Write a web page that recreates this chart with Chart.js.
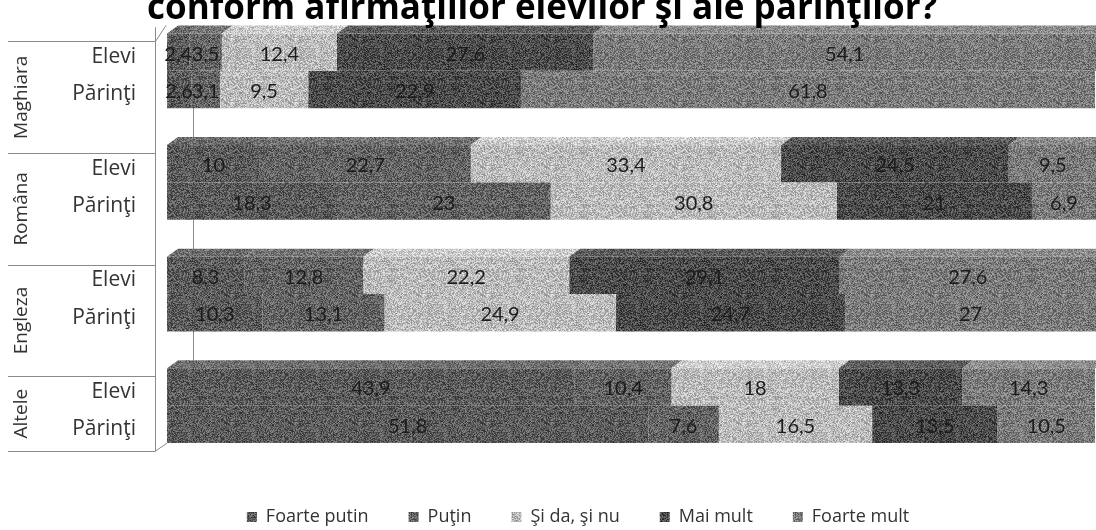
<!DOCTYPE html>
<html>
<head>
<meta charset="utf-8">
<script src="https://cdn.jsdelivr.net/npm/chart.js@4.4.1/dist/chart.umd.min.js"></script>
<style>
  html, body { margin: 0; padding: 0; background: #fff; }
</style>
</head>
<body>
<canvas id="myChart" width="1096" height="530"></canvas>
<script>
var groups = ['Maghiara', 'Româna', 'Engleza', 'Altele'];
var respondents = ['Elevi', 'Părinţi'];
var seriesNames = ['Foarte putin', 'Puţin', 'Şi da, şi nu', 'Mai mult', 'Foarte mult'];

// procente, cate o valoare pe limba (Maghiara, Româna, Engleza, Altele)
var foartePutinElevi   = [2.4, 10, 8.3, 43.9];
var foartePutinParinti = [2.6, 18.3, 10.3, 51.8];
var putinElevi         = [3.5, 22.7, 12.8, 10.4];
var putinParinti       = [3.1, 23, 13.1, 7.6];
var siDaSiNuElevi      = [12.4, 33.4, 22.2, 18];
var siDaSiNuParinti    = [9.5, 30.8, 24.9, 16.5];
var maiMultElevi       = [27.6, 24.5, 29.1, 13.3];
var maiMultParinti     = [22.9, 21, 24.7, 13.5];
var foarteMultElevi    = [54.1, 9.5, 27.6, 14.3];
var foarteMultParinti  = [61.8, 6.9, 27, 10.5];

var eleviSeries   = [foartePutinElevi, putinElevi, siDaSiNuElevi, maiMultElevi, foarteMultElevi];
var parintiSeries = [foartePutinParinti, putinParinti, siDaSiNuParinti, maiMultParinti, foarteMultParinti];

var grays = [90, 98, 186, 74, 122];
var catPct = 0.67;

var canvas = document.getElementById('myChart');
var ctx = canvas.getContext('2d');

// gray fill with a fixed grain
function grain(level, spread) {
  var c = document.createElement('canvas');
  c.width = 64; c.height = 64;
  var g = c.getContext('2d');
  var img = g.createImageData(64, 64);
  for (var y = 0; y < 64; y++) {
    for (var x = 0; x < 64; x++) {
      var h = Math.sin(x * 12.9898 + y * 78.233) * 43758.5453;
      h = h - Math.floor(h);
      var v = Math.max(0, Math.min(255, level + (h - 0.5) * 2 * spread));
      var i = (y * 64 + x) * 4;
      img.data[i] = img.data[i + 1] = img.data[i + 2] = v;
      img.data[i + 3] = 255;
    }
  }
  g.putImageData(img, 0, 0);
  return ctx.createPattern(c, 'repeat');
}

var datasets = [];
seriesNames.forEach(function(name, s) {
  var fill = grain(grays[s], 45);
  var top = grain(grays[s] + 18, 40);
  datasets.push({ label: name, data: eleviSeries[s], stack: 'Elevi', backgroundColor: fill, topColor: top });
  datasets.push({ label: name, data: parintiSeries[s], stack: 'Părinţi', backgroundColor: fill, topColor: top });
});

function barBox(chart, dsIndex, i) {
  var bar = chart.getDatasetMeta(dsIndex).data[i];
  return { top: bar.y - bar.height / 2, bottom: bar.y + bar.height / 2, y: bar.y };
}

// slanted top face over the Elevi row of every group
var topFaces = {
  id: 'topFaces',
  afterDatasetsDraw: function(chart) {
    var c = chart.ctx;
    c.save();
    chart.data.datasets.forEach(function(ds, i) {
      if (ds.stack !== 'Elevi') return;
      chart.getDatasetMeta(i).data.forEach(function(bar) {
        var top = bar.y - bar.height / 2;
        var x0 = Math.min(bar.base, bar.x), x1 = Math.max(bar.base, bar.x);
        c.beginPath();
        c.moveTo(x0, top);
        c.lineTo(x1, top);
        c.lineTo(x1 + 11, top - 8);
        c.lineTo(x0 + 11, top - 8);
        c.closePath();
        c.fillStyle = ds.topColor;
        c.fill();
      });
    });
    c.restore();
  }
};

var valueLabels = {
  id: 'valueLabels',
  afterDatasetsDraw: function(chart) {
    var c = chart.ctx;
    c.save();
    c.font = '20px Lato';
    c.fillStyle = '#1c1c1c';
    c.textAlign = 'center';
    c.textBaseline = 'middle';
    chart.data.datasets.forEach(function(ds, i) {
      chart.getDatasetMeta(i).data.forEach(function(bar, j) {
        var p = bar.getCenterPoint();
        c.fillText(String(ds.data[j]).replace('.', ','), p.x, p.y + 2);
      });
    });
    c.restore();
  }
};

// back wall edge behind the bars
var backWall = {
  id: 'backWall',
  beforeDatasetsDraw: function(chart) {
    var c = chart.ctx;
    var x0 = chart.chartArea.left;
    var first = barBox(chart, 0, 0);
    var last = barBox(chart, 1, groups.length - 1);
    c.save();
    c.strokeStyle = '#8a8a8a';
    c.lineWidth = 1;
    c.beginPath();
    c.moveTo(x0 + 26.5, first.top - 8);
    c.lineTo(x0 + 26.5, last.bottom - 8);
    c.stroke();
    c.restore();
  }
};

// category box on the left: language names and Elevi / Părinţi
var sidePanel = {
  id: 'sidePanel',
  afterDraw: function(chart) {
    var c = chart.ctx;
    var x0 = chart.chartArea.left;
    var edge = 155.5;
    var seps = [];
    groups.forEach(function(g, i) { seps.push(barBox(chart, 0, i).top + 8); });
    var lastBottom = barBox(chart, 1, groups.length - 1).bottom;
    seps.push(lastBottom + 8);

    c.save();
    c.strokeStyle = '#8a8a8a';
    c.lineWidth = 1;
    c.beginPath();
    seps.forEach(function(s) {
      c.moveTo(8, Math.round(s) + 0.5);
      c.lineTo(edge, Math.round(s) + 0.5);
    });
    c.moveTo(edge, seps[0] - 14);
    c.lineTo(edge, seps[seps.length - 1]);
    c.moveTo(edge, seps[seps.length - 1]);
    c.lineTo(x0, lastBottom);
    c.moveTo(edge, seps[0]);
    c.lineTo(x0 - 1, seps[0] - 16);
    c.stroke();

    c.fillStyle = '#333';
    c.font = '19px "Open Sans"';
    c.textAlign = 'center';
    c.textBaseline = 'middle';
    groups.forEach(function(g, i) {
      c.save();
      c.translate(22, (seps[i] + seps[i + 1]) / 2);
      c.rotate(-Math.PI / 2);
      c.fillText(g, 0, 0);
      c.restore();
    });

    c.font = '21px "Open Sans"';
    c.textAlign = 'right';
    groups.forEach(function(g, i) {
      c.fillText(respondents[0], 136, barBox(chart, 0, i).y + 5);
      c.fillText(respondents[1], 136, barBox(chart, 1, i).y + 5);
    });
    c.restore();
  }
};

var titleText = {
  id: 'titleText',
  afterDraw: function(chart) {
    var c = chart.ctx;
    c.save();
    c.font = 'bold 35px "Open Sans"';
    c.fillStyle = '#000';
    c.textAlign = 'left';
    c.textBaseline = 'alphabetic';
    c.fillText('conform afirmaţiilor elevilor şi ale părinţilor?', 147, 19);
    c.restore();
  }
};

var myChart = new Chart(ctx, {
  type: 'bar',
  data: { labels: groups, datasets: datasets },
  plugins: [backWall, topFaces, valueLabels, sidePanel, titleText],
  options: {
    indexAxis: 'y',
    responsive: false,
    animation: false,
    barPercentage: 1,
    categoryPercentage: catPct,
    layout: { padding: { top: 15, left: 60, right: 0, bottom: -6 } },
    scales: {
      x: {
        stacked: true,
        min: 0,
        max: 100,
        grid: { display: false },
        border: { display: false },
        ticks: { display: false },
        afterFit: function(scale) { scale.height = 6.5; }
      },
      y: {
        stacked: true,
        grid: { display: false },
        border: { display: false },
        ticks: { display: false },
        afterFit: function(scale) { scale.width = 107; }
      }
    },
    plugins: {
      tooltip: { enabled: false },
      legend: {
        position: 'bottom',
        labels: {
          font: { family: 'Open Sans', size: 18 },
          color: '#333',
          boxWidth: 10,
          boxHeight: 10,
          padding: 40,
          filter: function(item, data) {
            return data.datasets[item.datasetIndex].stack === 'Elevi';
          }
        }
      }
    }
  }
});
</script>
</body>
</html>
